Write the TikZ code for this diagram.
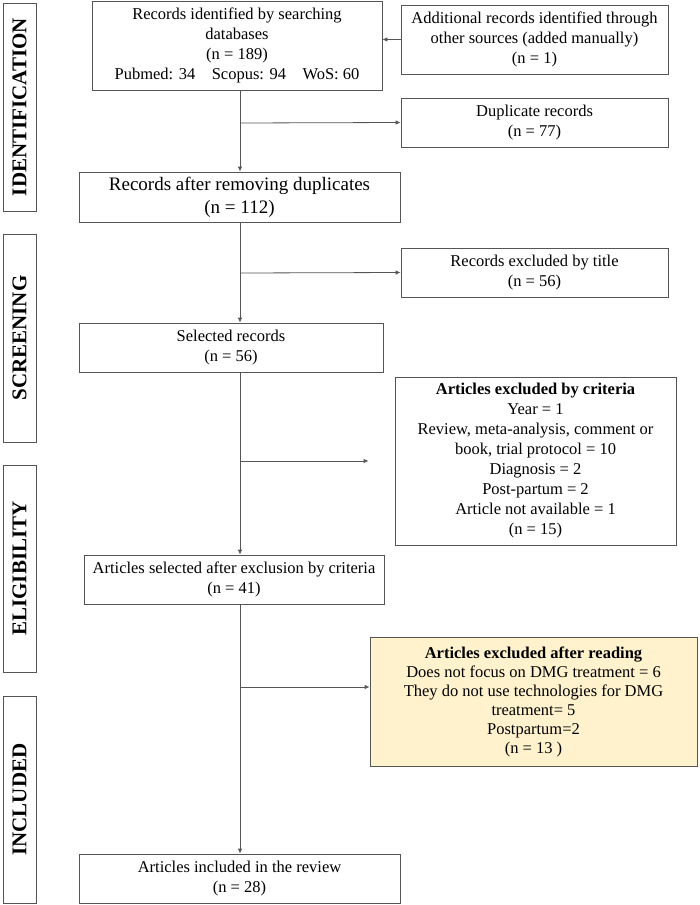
\documentclass[tikz,border=0pt]{standalone}
\usepackage{fontspec}
\setmainfont{Liberation Serif}
\usetikzlibrary{arrows.meta}
\definecolor{paleyellow}{RGB}{255,242,204}
\definecolor{linegray}{RGB}{85,85,85}
\tikzset{
	box/.style={draw=linegray, line width=0.8pt, fill=white, align=center, inner sep=2pt, font=\fontsize{16.5}{20}\selectfont},
	phase/.style={draw=linegray, line width=0.8pt, rotate=90, inner sep=0pt, font=\fontsize{21}{22}\selectfont\bfseries},
	arr/.style={draw=linegray, line width=0.8pt, -{Latex[length=5pt,width=4.5pt]}},
	ln/.style={draw=linegray, line width=0.8pt}
}

\begin{document}
\begin{tikzpicture}[x=1pt, y=-1pt]
		%%%%% START %%%%%
		\useasboundingbox (0, 0) rectangle (699, 905);
		
		\node[phase, minimum width=208pt, minimum height=33pt] (pident) at (19.5, 107) {IDENTIFICATION};
		\node[phase, minimum width=208pt, minimum height=33pt] (pscreen) at (19.5, 338) {SCREENING};
		\node[phase, minimum width=207pt, minimum height=33pt] (pelig) at (19.5, 568.5) {ELIGIBILITY};
		\node[phase, minimum width=207pt, minimum height=33pt] (pincl) at (19.5, 799.5) {INCLUDED};
		
		\node[box, minimum width=290pt, minimum height=89pt] (ident) at (237, 45.5) {Records identified by searching\\databases\\(n = 189)\\Pubmed: 34\quad Scopus: 94\quad WoS: 60};
		\node[box, minimum width=267pt, minimum height=69pt] (extra) at (534.5, 39.5) {Additional records identified through\\other sources (added manually)\\(n = 1)};
		\node[box, minimum width=267pt, minimum height=49pt] (dup) at (534.5, 122.5) {Duplicate records\\(n = 77)};
		\node[box, minimum width=321pt, minimum height=50pt, font=\fontsize{19}{23}\selectfont] (nodup) at (239.5, 197) {Records after removing duplicates\\(n = 112)};
		\node[box, minimum width=267pt, minimum height=49pt] (title) at (534.5, 272.5) {Records excluded by title\\(n = 56)};
		\node[box, minimum width=304pt, minimum height=49pt] (selected) at (231, 347.5) {Selected records\\(n = 56)};
		\node[box, minimum width=281pt, minimum height=168pt] (crit) at (535.5, 461) {\textbf{Articles excluded by criteria}\\Year = 1\\Review, meta-analysis, comment or\\book, trial protocol = 10\\Diagnosis = 2\\Post-partum = 2\\Article not available = 1\\(n = 15)};
		\node[box, minimum width=300pt, minimum height=49pt] (eligible) at (234, 579.5) {Articles selected after exclusion by criteria\\(n = 41)};
		\node[box, fill=paleyellow, minimum width=327pt, minimum height=129pt, font=\fontsize{16.5}{19}\selectfont] (reading) at (533.5, 701.5) {\textbf{Articles excluded after reading}\\Does not focus on DMG treatment = 6\\They do not use technologies for DMG\\treatment= 5\\Postpartum=2\\(n = 13 )};
		\node[box, minimum width=321pt, minimum height=49pt] (incl) at (239.5, 878.5) {Articles included in the review\\(n = 28)};
		
		\coordinate (b1) at (240, 123);
		\coordinate (b2) at (240, 273);
		\coordinate (b3) at (240, 461);
		\coordinate (b4) at (240, 687);
		
		\draw[arr] (extra.west) -- (extra.west -| ident.east);
		\draw[arr] (ident.south -| b1) -- (nodup.north -| b1);
		\draw[arr] (b1) -- (dup.west);
		\draw[arr] (nodup.south -| b2) -- (selected.north -| b2);
		\draw[arr] (b2) -- (title.west);
		\draw[arr] (selected.south -| b3) -- (eligible.north -| b3);
		\draw[arr] (b3) -- ([xshift=-26pt]crit.west);
		\draw[arr] (eligible.south -| b4) -- (incl.north -| b4);
		\draw[arr] (b4) -- (b4 -| reading.west);
		%%%%% END %%%%%
\end{tikzpicture}
\end{document}
